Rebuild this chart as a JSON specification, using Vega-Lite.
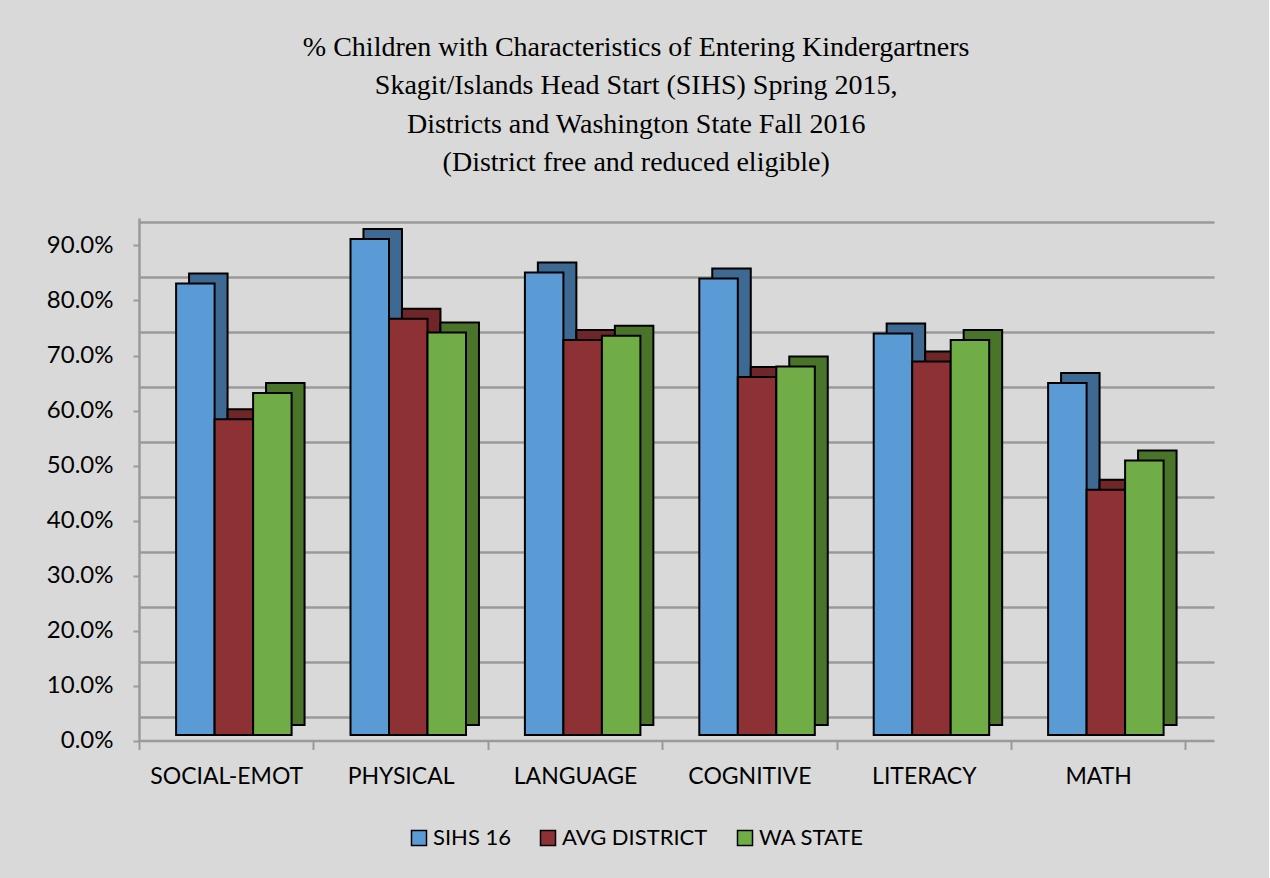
{
  "$schema": "https://vega.github.io/schema/vega-lite/v6.json",
  "width": 1075,
  "height": 522.5,
  "autosize": {"type": "pad"},
  "padding": {"left": 46, "top": 33, "right": 55, "bottom": 32},
  "background": "#d9d9d9",
  "title": {
    "text": ["% Children with Characteristics of Entering Kindergartners", "Skagit/Islands Head Start (SIHS) Spring 2015,", "Districts and Washington State Fall 2016", "(District free and reduced eligible)"],
    "font": "Liberation Serif",
    "fontSize": 28,
    "fontWeight": "normal",
    "color": "#000000",
    "lineHeight": 38.5,
    "anchor": "middle",
    "frame": "bounds",
    "dx": 6,
    "offset": 41
  },
  "data": {
    "values": [
      {"category": "SOCIAL-EMOT", "series": "SIHS 16", "value": 0.821},
      {"category": "SOCIAL-EMOT", "series": "AVG DISTRICT", "value": 0.574},
      {"category": "SOCIAL-EMOT", "series": "WA STATE", "value": 0.622},
      {"category": "PHYSICAL", "series": "SIHS 16", "value": 0.902},
      {"category": "PHYSICAL", "series": "AVG DISTRICT", "value": 0.757},
      {"category": "PHYSICAL", "series": "WA STATE", "value": 0.732},
      {"category": "LANGUAGE", "series": "SIHS 16", "value": 0.841},
      {"category": "LANGUAGE", "series": "AVG DISTRICT", "value": 0.718},
      {"category": "LANGUAGE", "series": "WA STATE", "value": 0.726},
      {"category": "COGNITIVE", "series": "SIHS 16", "value": 0.830},
      {"category": "COGNITIVE", "series": "AVG DISTRICT", "value": 0.651},
      {"category": "COGNITIVE", "series": "WA STATE", "value": 0.670},
      {"category": "LITERACY", "series": "SIHS 16", "value": 0.730},
      {"category": "LITERACY", "series": "AVG DISTRICT", "value": 0.679},
      {"category": "LITERACY", "series": "WA STATE", "value": 0.718},
      {"category": "MATH", "series": "SIHS 16", "value": 0.640},
      {"category": "MATH", "series": "AVG DISTRICT", "value": 0.446},
      {"category": "MATH", "series": "WA STATE", "value": 0.499}
    ]
  },
  "config": {
    "view": {"stroke": null},
    "axis": {"labelFont": "Lato", "labelFontSize": 23, "labelColor": "#000000", "title": null},
    "axisX": {"domainColor": "#9a9a9a", "domainWidth": 2.5, "tickColor": "#9a9a9a", "tickWidth": 2, "tickSize": 9, "tickBand": "extent", "labelPadding": 16, "labelAngle": 0, "grid": false},
    "axisY": {"domainColor": "#9a9a9a", "domainWidth": 2.5, "tickColor": "#9a9a9a", "tickWidth": 2, "tickSize": 6, "labelPadding": 20, "labelFontSize": 24}
  },
  "layer": [
    {
      "mark": {"type": "point", "opacity": 0, "size": 1},
      "encoding": {
        "y": {
          "field": "value",
          "type": "quantitative",
          "scale": {"domain": [-0.042, 0.908], "nice": false, "zero": false},
          "axis": {"orient": "right", "grid": true, "gridColor": "#9a9a9a", "gridWidth": 2.5, "labels": false, "ticks": false, "domain": false, "values": [0, 0.1, 0.2, 0.3, 0.4, 0.5, 0.6, 0.7, 0.8, 0.9], "title": null}
        }
      }
    },
    {
      "layer": [
        {
          "mark": {"type": "bar", "stroke": "#000000", "strokeWidth": 2, "yOffset": -15.5},
          "encoding": {
            "x": {"field": "category", "type": "nominal", "sort": ["SOCIAL-EMOT", "PHYSICAL", "LANGUAGE", "COGNITIVE", "LITERACY", "MATH"], "scale": {"paddingInner": 0, "paddingOuter": 0.082, "align": 0}, "axis": {"title": null}},
            "xOffset": {"field": "series", "type": "nominal", "sort": ["SIHS 16", "AVG DISTRICT", "WA STATE"], "scale": {"paddingInner": 0, "paddingOuter": 0.765, "align": 0.85}},
            "y": {"field": "value", "type": "quantitative", "scale": {"domain": [0, 0.95], "nice": false}, "axis": {"values": [0, 0.1, 0.2, 0.3, 0.4, 0.5, 0.6, 0.7, 0.8, 0.9], "format": ".1%", "title": null, "orient": "left", "grid": false}},
            "color": {"field": "series", "type": "nominal", "scale": {"domain": ["SIHS 16", "AVG DISTRICT", "WA STATE"], "range": ["#3e6993", "#6e2628", "#4b742b"]}, "legend": null}
          }
        },
        {
          "mark": {"type": "bar", "stroke": "#000000", "strokeWidth": 2, "yOffset": -5.5},
          "encoding": {
            "x": {"field": "category", "type": "nominal", "sort": ["SOCIAL-EMOT", "PHYSICAL", "LANGUAGE", "COGNITIVE", "LITERACY", "MATH"], "scale": {"paddingInner": 0, "paddingOuter": 0.082, "align": 0}, "axis": {"title": null}},
            "xOffset": {"field": "series", "type": "nominal", "sort": ["SIHS 16", "AVG DISTRICT", "WA STATE"], "scale": {"paddingInner": 0, "paddingOuter": 0.765, "align": 0.63}},
            "y": {"field": "value", "type": "quantitative", "scale": {"domain": [0, 0.95], "nice": false}, "axis": {"values": [0, 0.1, 0.2, 0.3, 0.4, 0.5, 0.6, 0.7, 0.8, 0.9], "format": ".1%", "title": null, "orient": "left", "grid": false}},
            "color": {"field": "series", "type": "nominal", "scale": {"domain": ["SIHS 16", "AVG DISTRICT", "WA STATE"], "range": ["#5b9bd5", "#8e3134", "#71ad47"]}, "legend": {"orient": "none", "legendX": 269, "legendY": 609, "direction": "horizontal", "title": null, "symbolType": "square", "symbolSize": 225, "symbolStrokeColor": "#000000", "symbolStrokeWidth": 1.5, "labelFont": "Lato", "labelFontSize": 22, "labelColor": "#000000", "columnPadding": 26, "labelOffset": 3, "padding": 0}}
          }
        }
      ],
      "resolve": {"scale": {"xOffset": "independent", "color": "independent"}}
    }
  ],
  "resolve": {"scale": {"y": "independent"}, "axis": {"y": "independent"}}
}
